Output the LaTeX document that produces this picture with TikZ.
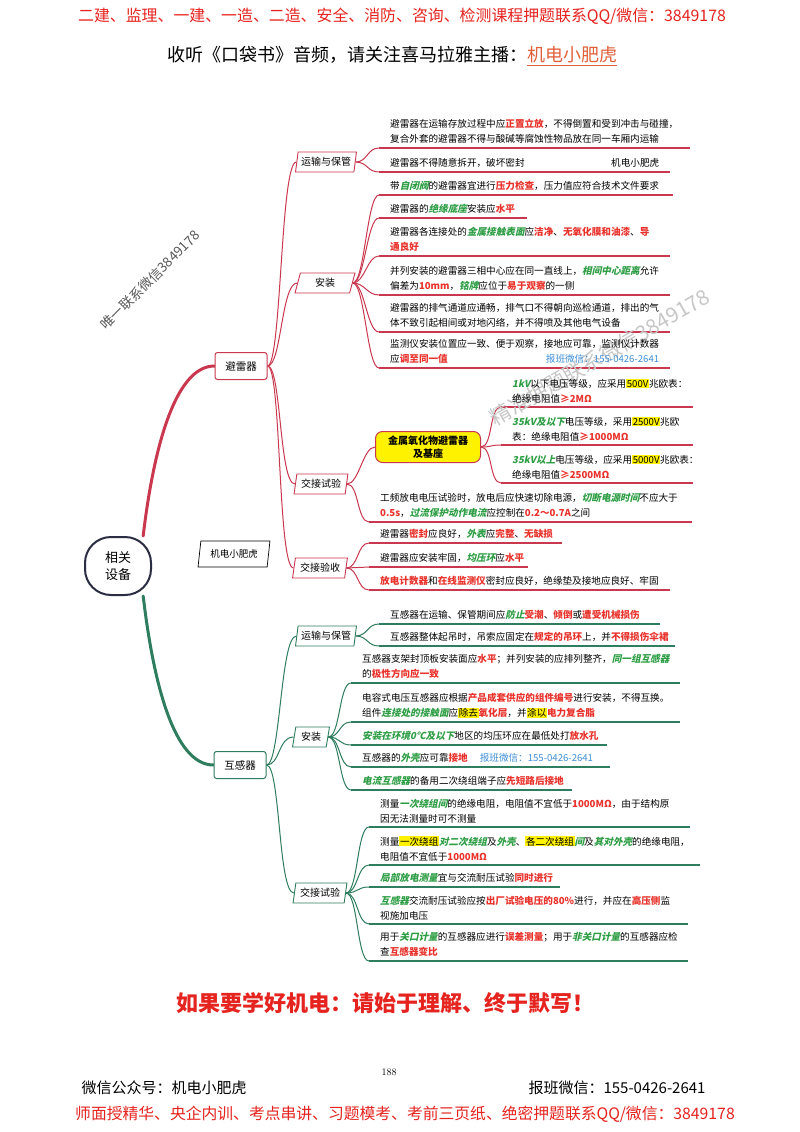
\documentclass[tikz,border=0pt]{standalone}
\usepackage{fontspec}
\usetikzlibrary{shapes.geometric,shapes.misc}
\newfontfamily\cjk{Noto Sans CJK SC}
\definecolor{hr}{HTML}{E8322B}
\definecolor{hg}{HTML}{2E9E45}
\definecolor{hy}{HTML}{FFF200}
\definecolor{hb}{HTML}{3F8FD8}
\definecolor{brr}{HTML}{C9384F}
\definecolor{brg}{HTML}{2E7D5E}
\definecolor{ctr}{HTML}{2B2D42}
\definecolor{hdr}{HTML}{E52420}
\definecolor{org}{HTML}{E0603A}
\newcommand\redt[1]{{\bfseries\color{hr}#1}}
\newcommand\grnt[1]{{\bfseries\addfontfeature{FakeSlant=0.22}\color{hg}#1}}
\newcommand\yelt[1]{{\setlength{\fboxsep}{0.6pt}\colorbox{hy}{#1}}}
\newcommand\bluet[1]{{\color{hb}#1}}
\pgfdeclarelayer{back}
\pgfdeclarelayer{bg}
\pgfsetlayers{back,bg,main}
\tikzset{
  leaf/.style={anchor=south west, inner xsep=11pt, inner ysep=4pt, text width=#1, align=left,
    font=\cjk\fontsize{9.6}{15}\selectfont},
  sub/.style={trapezium, trapezium left angle=78, trapezium right angle=102, trapezium stretches=true,
    minimum height=20pt, inner sep=1pt, fill=white, font=\cjk\fontsize{10}{12}\selectfont},
  subr/.style={sub, draw=brr, line width=0.9pt},
  subg/.style={sub, draw=brg, line width=0.9pt},
  mainbox/.style={rectangle, rounded corners=2.5pt, line width=1pt, fill=white, minimum width=52pt,
    minimum height=27pt, font=\cjk\fontsize{10.5}{12}\selectfont},
  ctrn/.style={rectangle, rounded corners=26pt, draw=ctr, line width=2pt, fill=white, minimum width=66pt,
    minimum height=58pt, align=center, font=\cjk\fontsize{13}{17}\selectfont},
  cr/.style={draw=brr, line width=1pt},
  cg/.style={draw=brg, line width=1pt},
  ulr/.style={draw=brr, line width=1.2pt},
  ulg/.style={draw=brg, line width=1.2pt},
}
\begin{document}
\begin{tikzpicture}[x=1pt,y=-1pt]
\begin{pgfonlayer}{back}
\fill[white] (0,0) rectangle (800,1132);
\end{pgfonlayer}
\useasboundingbox (0,0) rectangle (800,1132);

% header
\node[font=\cjk\fontsize{15.9}{18}\selectfont, text=hdr] (h1) at (402,16)
  {二建、监理、一建、一造、二造、安全、消防、咨询、检测课程押题联系QQ/微信：3849178};
\node[font=\cjk\fontsize{18}{20}\selectfont] (h2) at (392,56)
  {收听《口袋书》音频，请关注喜马拉雅主播：{\color{org}\underline{机电小肥虎}}};

% watermarks
\node[font=\cjk\fontsize{13.5}{14}\selectfont, text=black!65, rotate=45] (wm1) at (150,280) {唯一联系微信3849178};
\node[font=\cjk\fontsize{21}{22}\selectfont, text=black!22, rotate=30] (wm2) at (600,357) {精准押题联系微信3849178};

% center and main branches
\node[ctrn] (c) at (118,566) {相关\\设备};
\node[mainbox, draw=brr] (bl) at (241,366) {避雷器};
\node[mainbox, draw=brg] (hq) at (240,765) {互感器};
\node[trapezium, trapezium left angle=79, trapezium right angle=101, trapezium stretches=true,
  draw=black, line width=0.7pt, minimum width=72pt, minimum height=26pt, inner sep=1pt,
  font=\cjk\fontsize{9.5}{11}\selectfont] (tag) at (234,554) {机电小肥虎};

% sub nodes
\node[subr, minimum width=61pt] (bt) at (326,162) {运输与保管};
\node[subr, minimum width=60pt] (ba) at (325,283) {安装};
\node[subr, minimum width=54pt] (bj) at (321,484) {交接试验};
\node[subr, minimum width=55pt] (bv) at (320,568) {交接验收};
\node[subg, minimum width=61pt] (ht) at (326,636) {运输与保管};
\node[subg, minimum width=37pt] (hi) at (311,737) {安装};
\node[subg, minimum width=54pt] (hj) at (320,893) {交接试验};
\node[rectangle, rounded corners=7pt, fill=hy, draw=brr, line width=1pt, minimum width=105pt,
  minimum height=31pt, inner sep=1pt, align=center,
  font=\cjk\bfseries\fontsize{10}{13}\selectfont] (yl) at (428,447) {金属氧化物避雷器\\及基座};

% leaves: 避雷器 / 运输与保管
\node[leaf=289pt] (L1) at (379,148) {避雷器在运输存放过程中应\redt{正置立放}，不得倒置和受到冲击与碰撞，\\复合外套的避雷器不得与酸碱等腐蚀性物品放在同一车厢内运输};
\node[leaf=269pt] (L2) at (379,172) {避雷器不得随意拆开，破坏密封\hfill 机电小肥虎};
% 安装
\node[leaf=272pt] (A1) at (379,195) {带\grnt{自闭阀}的避雷器宜进行\redt{压力检查}，压力值应符合技术文件要求};
\node[leaf=126pt] (A2) at (379,218) {避雷器的\grnt{绝缘底座}安装应\redt{水平}};
\node[leaf=269pt] (A3) at (379,256) {避雷器各连接处的\grnt{金属接触表面}应\redt{洁净}、\redt{无氧化膜和油漆}、\redt{导}\\\redt{通良好}};
\node[leaf=269pt] (A4) at (379,295) {并列安装的避雷器三相中心应在同一直线上，\grnt{相间中心距离}允许\\偏差为\redt{10mm}，\grnt{铭牌}应位于\redt{易于观察}的一侧};
\node[leaf=269pt] (A5) at (379,332) {避雷器的排气通道应通畅，排气口不得朝向巡检通道，排出的气\\体不致引起相间或对地闪络，并不得喷及其他电气设备};
\node[leaf=269pt] (A6) at (379,368) {监测仪安装位置应一致、便于观察，接地应可靠，监测仪计数器\\应\redt{调至同一值}\hfill\bluet{报班微信：155-0426-2641}};
% 交接试验
\node[leaf=170pt] (Y1) at (501,407) {\grnt{1kV}以下电压等级，应采用\yelt{500V}兆欧表：\\绝缘电阻值\redt{≥2MΩ}};
\node[leaf=170pt] (Y2) at (501,445) {\grnt{35kV及以下}电压等级，采用\yelt{2500V}兆欧\\表：绝缘电阻值\redt{≥1000MΩ}};
\node[leaf=170pt] (Y3) at (501,483) {\grnt{35kV以上}电压等级，应采用\yelt{5000V}兆欧表：\\绝缘电阻值\redt{≥2500MΩ}};
\node[leaf=301pt] (T2) at (369,522) {工频放电电压试验时，放电后应快速切除电源，\grnt{切断电源时间}不应大于\\\redt{0.5s}，\grnt{过流保护动作电流}应控制在\redt{0.2～0.7A}之间};
% 交接验收
\node[leaf=171pt] (V1) at (369,543) {避雷器\redt{密封}应良好，\grnt{外表}应\redt{完整}、\redt{无缺损}};
\node[leaf=137pt] (V2) at (369,567) {避雷器应安装牢固，\grnt{均压环}应\redt{水平}};
\node[leaf=279pt] (V3) at (369,590) {\redt{放电计数器}和\redt{在线监测仪}密封应良好，绝缘垫及接地应良好、牢固};

% leaves: 互感器 / 运输与保管
\node[leaf=259pt] (H1) at (379,624) {互感器在运输、保管期间应\grnt{防止}\redt{受潮}、\redt{倾倒}或\redt{遭受机械损伤}};
\node[leaf=274pt] (H2) at (379,646) {互感器整体起吊时，吊索应固定在\redt{规定的吊环}上，并\redt{不得损伤伞裙}};
% 安装
\node[leaf=307pt] (I1) at (351,683) {互感器支架封顶板安装面应\redt{水平}；并列安装的应排列整齐，\grnt{同一组互感器}\\的\redt{极性方向应一致}};
\node[leaf=307pt] (I2) at (351,722) {电容式电压互感器应根据\redt{产品成套供应的组件编号}进行安装，不得互换。\\组件\grnt{连接处的接触面}应\yelt{除去}\redt{氧化层}，并\yelt{涂以}\redt{电力复合脂}};
\node[leaf=234pt] (I3) at (351,745) {\grnt{安装在环境0℃及以下}地区的均压环应在最低处打\redt{放水孔}};
\node[leaf=237pt] (I4) at (351,767) {互感器的\grnt{外壳}应可靠\redt{接地}\hspace{12pt}\bluet{报班微信：155-0426-2641}};
\node[leaf=199pt] (I5) at (351,790) {\grnt{电流互感器}的备用二次绕组端子应\redt{先短路后接地}};
% 交接试验
\node[leaf=299pt] (J1) at (369,827) {测量\grnt{一次绕组间}的绝缘电阻，电阻值不宜低于\redt{1000MΩ}，由于结构原\\因无法测量时可不测量};
\node[leaf=309pt] (J2) at (369,865) {测量\yelt{一次绕组}\grnt{对二次绕组}及\grnt{外壳}、\yelt{各二次绕组}\grnt{间}及\grnt{其对外壳}的绝缘电阻，\\电阻值不宜低于\redt{1000MΩ}};
\node[leaf=169pt] (J3) at (369,887) {\grnt{局部放电测量}宜与交流耐压试验\redt{同时进行}};
\node[leaf=297pt] (J4) at (369,924) {\grnt{互感器}交流耐压试验应按\redt{出厂试验电压的80\%}进行，并应在\redt{高压侧}监\\视施加电压};
\node[leaf=297pt] (J5) at (369,961) {用于\grnt{关口计量}的互感器应进行\redt{误差测量}；用于\grnt{非关口计量}的互感器应检\\查\redt{互感器变比}};

% footer
\node[font=\cjk\bfseries\fontsize{22}{24}\selectfont, text=hdr] (mt) at (385,1003) {如果要学好机电：请始于理解、终于默写！};
\node[font=\fontsize{10}{12}\selectfont] (pg) at (389,1072) {188};
\node[font=\cjk\fontsize{15}{17}\selectfont, anchor=west] (f1) at (78,1088) {微信公众号：机电小肥虎};
\node[font=\cjk\fontsize{15}{17}\selectfont, anchor=west] (f2) at (525,1088) {报班微信：155-0426-2641};
\node[font=\cjk\fontsize{15.8}{17}\selectfont, text=hdr] (f3) at (405,1114) {师面授精华、央企内训、考点串讲、习题模考、考前三页纸、绝密押题联系QQ/微信：3849178};

\begin{pgfonlayer}{bg}
% thick main branches
\draw[draw=brr, line width=3pt, line cap=round] (c.50) .. controls +(10,-85) and +(-40,0) .. (bl.west);
\draw[draw=brg, line width=3pt, line cap=round] (c.-50) .. controls +(10,85) and +(-40,0) .. (hq.west);
% second level
\foreach \s in {bt,ba,bj,bv} \draw[cr] (bl.east) .. controls +(14,0) and +(-16,0) .. (\s.west);
\foreach \s in {ht,hi,hj} \draw[cg] (hq.east) .. controls +(14,0) and +(-16,0) .. (\s.west);
% third level red
\foreach \p/\s in {bt/L1,bt/L2,ba/A1,ba/A2,ba/A3,ba/A4,ba/A5,ba/A6,bj/T2,bv/V1,bv/V2,bv/V3,yl/Y1,yl/Y2,yl/Y3}
  \draw[cr] (\p.east) .. controls +(12,0) and +(-12,0) .. (\s.south west);
\draw[cr] (bj.east) .. controls +(12,0) and +(-12,0) .. (yl.west);
\foreach \s in {L1,L2,A1,A2,A3,A4,A5,A6,T2,V1,V2,V3,Y1,Y2,Y3}
  \draw[ulr] (\s.south west) -- (\s.south east);
% third level green
\foreach \p/\s in {ht/H1,ht/H2,hi/I1,hi/I2,hi/I3,hi/I4,hi/I5,hj/J1,hj/J2,hj/J3,hj/J4,hj/J5}
  \draw[cg] (\p.east) .. controls +(12,0) and +(-12,0) .. (\s.south west);
\foreach \s in {H1,H2,I1,I2,I3,I4,I5,J1,J2,J3,J4,J5}
  \draw[ulg] (\s.south west) -- (\s.south east);
\end{pgfonlayer}
\end{tikzpicture}
\end{document}
